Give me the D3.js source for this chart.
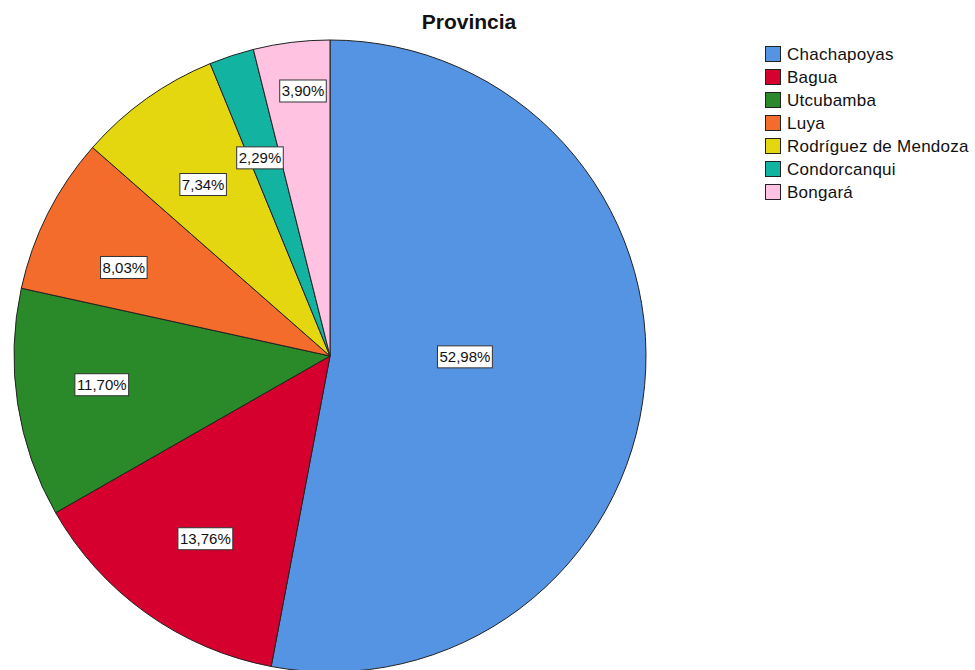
<!DOCTYPE html>
<html>
<head>
<meta charset="utf-8">
<script src="https://cdn.jsdelivr.net/npm/d3@7"></script>
<style>
  html, body { margin: 0; padding: 0; background: #fff; }
  svg { display: block; }
</style>
</head>
<body>
<svg id="chart" width="975" height="670"></svg>
<script>
const categories = ["Chachapoyas", "Bagua", "Utcubamba", "Luya", "Rodríguez de Mendoza", "Condorcanqui", "Bongará"];
const percents = [52.98, 13.76, 11.70, 8.03, 7.34, 2.29, 3.90];
const colors = ["#5594e3", "#d6002f", "#2a8a2a", "#f36c2b", "#e5d70f", "#12b3a0", "#ffc2e1"];
// label placement (layout config): radius fraction and angle tweak in degrees
const labelRadiusFactor = [0.427, 0.70, 0.728, 0.71, 0.675, 0.665, 0.843];
const labelAngleShift = [-5, -1.2, 1.5, -3.6, -1, -1.3, 1.2];
const title = "Provincia";

const svg = d3.select("#chart");
const cx = 330, cy = 356, R = 316;

svg.append("text")
  .attr("x", 469).attr("y", 29)
  .attr("text-anchor", "middle")
  .attr("font-family", "Liberation Sans, Arial, sans-serif")
  .attr("font-weight", "bold")
  .attr("font-size", 21)
  .attr("fill", "#111")
  .text(title);

const data = categories.map((c, i) => ({ name: c, value: percents[i], color: colors[i], lf: labelRadiusFactor[i], la: labelAngleShift[i] }));
const pie = d3.pie().value(d => d.value).sort(null);
const arcs = pie(data);
const arc = d3.arc().innerRadius(0).outerRadius(R);

const g = svg.append("g").attr("transform", `translate(${cx},${cy})`);
g.selectAll("path.slice")
  .data(arcs)
  .enter().append("path")
  .attr("class", "slice")
  .attr("d", arc)
  .attr("fill", d => d.data.color)
  .attr("stroke", "#222")
  .attr("stroke-width", 1)
  .attr("stroke-linejoin", "round");

const fmt = v => v.toFixed(2).replace(".", ",") + "%";
const labels = g.selectAll("g.lbl")
  .data(arcs)
  .enter().append("g")
  .attr("class", "lbl")
  .attr("transform", d => {
    const a = (d.startAngle + d.endAngle) / 2 + d.data.la * Math.PI / 180;
    const r = R * d.data.lf;
    return `translate(${Math.sin(a) * r},${-Math.cos(a) * r})`;
  });

labels.each(function(d) {
  const sel = d3.select(this);
  const t = sel.append("text")
    .attr("text-anchor", "middle")
    .attr("dy", "0.36em")
    .attr("font-family", "Liberation Sans, Arial, sans-serif")
    .attr("font-size", 15)
    .attr("fill", "#111")
    .text(fmt(d.data.value));
  const bb = t.node().getBBox();
  sel.insert("rect", "text")
    .attr("x", bb.x - 2).attr("y", -11)
    .attr("width", bb.width + 4).attr("height", 22)
    .attr("fill", "#fff")
    .attr("stroke", "#333")
    .attr("stroke-width", 1);
});

const legend = svg.append("g").attr("transform", "translate(765,46)");
const rows = legend.selectAll("g.row")
  .data(data)
  .enter().append("g")
  .attr("class", "row")
  .attr("transform", (d, i) => `translate(0,${i * 23})`);
rows.append("rect")
  .attr("x", 0.5).attr("y", 0.5)
  .attr("width", 15).attr("height", 15)
  .attr("fill", d => d.color)
  .attr("stroke", "#222")
  .attr("stroke-width", 1);
rows.append("text")
  .attr("x", 22).attr("y", 14)
  .attr("font-family", "Liberation Sans, Arial, sans-serif")
  .attr("font-size", 17)
  .attr("letter-spacing", 0.25)
  .attr("fill", "#111")
  .text(d => d.name);
</script>
</body>
</html>
